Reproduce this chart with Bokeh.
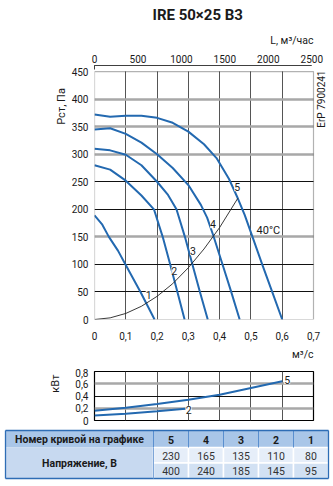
import math
from bokeh.plotting import figure
from bokeh.models import (Range1d, LinearAxis, FixedTicker, Grid, BoxAnnotation,
                          Label, CustomJSTickFormatter, Title)
from bokeh.embed import file_html
from bokeh.resources import INLINE
from bokeh.core.properties import value

FONT = "Roboto"
BLUE = "#2369b0"
TXT = "#1a1a1a"

# ---------------- data ----------------
q1 = [0, 0.025, 0.046, 0.075, 0.099, 0.147, 0.192]
p1 = [189, 172, 150, 125, 100, 50, 0]
q2 = [0, 0.05, 0.1, 0.15, 0.19, 0.218, 0.242, 0.265, 0.288]
p2 = [280, 272, 252, 225, 200, 150, 100, 50, 0]
q3 = [0, 0.05, 0.1, 0.15, 0.2, 0.235, 0.262, 0.289, 0.313, 0.337, 0.362]
p3 = [310, 307, 299, 280, 250, 226, 200, 150, 100, 50, 0]
q4 = [0, 0.05, 0.1, 0.15, 0.2, 0.25, 0.3, 0.34, 0.36, 0.38, 0.408, 0.436, 0.464]
p4 = [345, 347, 337, 321, 300, 275, 244, 208, 185, 152, 102, 52, 0]
q5 = [0, 0.05, 0.1, 0.15, 0.2, 0.25, 0.3, 0.35, 0.39, 0.43, 0.458, 0.48, 0.505, 0.536, 0.568, 0.6]
p5 = [372, 368, 370, 370, 366, 357, 341, 318, 293, 255, 220, 190, 150, 100, 50, 0]
sys_q = [0, 0.05, 0.1, 0.15, 0.2, 0.25, 0.3, 0.35, 0.4, 0.458]
sys_p = [0, 3, 11, 24, 42, 65, 94, 128, 167, 220]

pw5_q = [0, 0.1, 0.2, 0.3, 0.4, 0.5, 0.6]
pw5 = [0.16, 0.21, 0.27, 0.34, 0.42, 0.53, 0.64]
pw2_q = [0, 0.1, 0.2, 0.29]
pw2 = [0.08, 0.11, 0.15, 0.19]

x_ticks = [0, 0.1, 0.2, 0.3, 0.4, 0.5, 0.6, 0.7]
y_ticks = [0, 50, 100, 150, 200, 250, 300, 350, 400, 450]
top_ticks = [0, 500, 1000, 1500, 2000, 2500]
pw_ticks = [0, 0.2, 0.4, 0.6, 0.8]

curve_names = ["1", "2", "3", "4", "5"]
table_curves = ["5", "4", "3", "2", "1"]
volt_row1 = ["230", "165", "135", "110", "80"]
volt_row2 = ["400", "240", "185", "145", "95"]

Q_MAX, P_MAX = 0.7, 450
M3H_PER_M3S = 3600
PX_PER_Q = 219 / Q_MAX          # frame scale of the main chart
Q_EXT = (333 - 94) / PX_PER_Q   # frame runs to the right canvas edge


def comma_fmt():
    return CustomJSTickFormatter(code="""
        if (tick == 0) return '0';
        return tick.toFixed(1).replace('.', ',');
    """)


def side_title(text, size, align, offset, standoff, valign="bottom", bold=False):
    return Title(text=text, align=align, offset=offset, standoff=standoff,
                 vertical_align=valign, text_font=FONT, text_font_size=size,
                 text_font_style="bold" if bold else "normal", text_color=TXT)


def name_axis(text, at, standoff, size="11px"):
    """A second left axis whose single (vertical) tick label is the axis name."""
    return LinearAxis(ticker=FixedTicker(ticks=[at]),
                      formatter=CustomJSTickFormatter(code="return name;", args={"name": text}),
                      axis_line_color=None, major_tick_line_color=None,
                      minor_tick_line_color=None, major_tick_out=0, major_tick_in=0,
                      minor_tick_out=0, minor_tick_in=0, major_label_orientation=math.pi / 2,
                      major_label_standoff=standoff, major_label_text_font=FONT,
                      major_label_text_font_size=size, major_label_text_color=TXT)


def style_value_axis(ax, standoff):
    ax.axis_line_color = None
    ax.major_tick_line_color = None
    ax.minor_tick_line_color = None
    ax.major_tick_out = 0
    ax.minor_tick_out = 0
    ax.major_label_text_font = FONT
    ax.major_label_text_font_size = "10px"
    ax.major_label_text_color = TXT
    ax.major_label_standoff = standoff

# ---------------- main chart ----------------
p = figure(width=333, height=368, x_range=Range1d(0, Q_EXT), y_range=Range1d(0, 461),
           output_backend="svg", toolbar_location=None,
           min_border_left=94, min_border_right=0, min_border_top=65, min_border_bottom=46,
           outline_line_color=None)
p.title.text = "IRE 50×25 B3"
p.title.align = "left"
p.title.offset = 58
p.title.vertical_align = "top"
p.title.text_font = FONT
p.title.text_font_size = "15px"
p.title.text_font_style = "bold"
p.title.text_color = TXT
p.title.standoff = 2

p.xaxis.ticker = FixedTicker(ticks=x_ticks)
p.xaxis.formatter = comma_fmt()
p.yaxis.ticker = FixedTicker(ticks=y_ticks)
style_value_axis(p.xaxis[0], 6)
p.xaxis.major_tick_out = 6
style_value_axis(p.yaxis[0], 6)

p.extra_x_ranges = {"m3h": Range1d(0, Q_EXT * M3H_PER_M3S)}
top = LinearAxis(x_range_name="m3h", ticker=FixedTicker(ticks=top_ticks),
                 bounds=(0, top_ticks[-1]),
                 major_tick_in=4, major_tick_out=0, minor_tick_line_color=None,
                 major_label_standoff=3, major_label_text_font=FONT,
                 major_label_text_font_size="10px", major_label_text_color=TXT,
                 axis_line_color="black", major_tick_line_color="black")
p.add_layout(top, "above")
p.add_layout(side_title("L, м³/час", "10.5px", "right", 20, 10), "above")
p.add_layout(name_axis("Рст, Па", 420, 7), "left")
p.add_layout(side_title("м³/с", "10.5px", "right", 20, 11, valign="top"), "below")

p.xgrid.ticker = FixedTicker(ticks=x_ticks[1:-1])
p.xgrid.grid_line_color = "#555555"
p.xgrid.grid_line_width = 1
p.ygrid.ticker = FixedTicker(ticks=[50, 100, 200, 250])
p.ygrid.grid_line_color = "#111111"
p.ygrid.grid_line_width = 1
p.add_layout(Grid(dimension=1, ticker=FixedTicker(ticks=[150, 300, 350, 400]),
                  grid_line_color="#a8a8a8", grid_line_width=2.5))

for q, pr in [(q1, p1), (q2, p2), (q3, p3), (q4, p4), (q5, p5)]:
    p.line(q, pr, line_color=BLUE, line_width=2)
p.line(sys_q, sys_p, line_color="#222222", line_width=0.9)

# blank the margin strips of the frame (above 450 Pa, right of 0.7 m³/s)
p.add_layout(BoxAnnotation(bottom=P_MAX, fill_color="white", fill_alpha=1, line_color=None))
p.add_layout(BoxAnnotation(left=Q_MAX, fill_color="white", fill_alpha=1, line_color=None))
p.add_layout(BoxAnnotation(left=0, right=Q_MAX, bottom=0, top=P_MAX, fill_color=None,
                           line_color="black", line_width=1.2))

label_pos = [(0.173, 45), (0.255, 88), (0.315, 124), (0.379, 173), (0.456, 240)]
for name, (lx, ly) in zip(curve_names, label_pos):
    p.add_layout(Label(x=lx, y=ly, text=name, text_align="center", text_baseline="middle",
                       text_font=FONT, text_font_size="10.5px", text_color=TXT,
                       background_fill_color="white", background_fill_alpha=0.9))
p.add_layout(Label(x=0.518, y=162, text="40°C", text_align="left", text_baseline="middle",
                   text_font=FONT, text_font_size="11px", text_color=TXT))
p.add_layout(Label(x=0.725, y=400, text="ErP 7900241", angle=math.pi / 2,
                   text_align="center", text_baseline="middle", text_font=FONT,
                   text_font_size="10px", text_color=TXT))

# ---------------- power chart ----------------
pp = figure(width=333, height=58, x_range=Range1d(0, Q_MAX), y_range=Range1d(0, 0.8),
            output_backend="svg", toolbar_location=None,
            min_border_left=94, min_border_right=20, min_border_top=3, min_border_bottom=6,
            outline_line_color="black", outline_line_width=1.2)
pp.title.visible = False
pp.xaxis.visible = False
pp.yaxis.ticker = FixedTicker(ticks=pw_ticks)
pp.yaxis.formatter = comma_fmt()
style_value_axis(pp.yaxis[0], 6)
pp.add_layout(name_axis("кВт", 0.75, 17), "left")
pp.xgrid.ticker = FixedTicker(ticks=x_ticks[1:-1])
pp.xgrid.grid_line_color = "#555555"
pp.ygrid.ticker = FixedTicker(ticks=[0.4])
pp.ygrid.grid_line_color = "#111111"
pp.add_layout(Grid(dimension=1, ticker=FixedTicker(ticks=[0.2, 0.6]),
                   grid_line_color="#a8a8a8", grid_line_width=2.5))
pp.line(pw5_q, pw5, line_color=BLUE, line_width=2)
pp.line(pw2_q, pw2, line_color=BLUE, line_width=2)
pp.add_layout(Label(x=0.616, y=0.66, text="5", text_align="center", text_baseline="middle",
                    text_font=FONT, text_font_size="10.5px", text_color=TXT,
                    background_fill_color="white"))
pp.add_layout(Label(x=0.301, y=0.175, text="2", text_align="center", text_baseline="middle",
                    text_font=FONT, text_font_size="10.5px", text_color=TXT,
                    background_fill_color="white"))

# ---------------- table ----------------
t = figure(width=333, height=60, x_range=Range1d(0, 333), y_range=Range1d(60, 0),
           output_backend="svg", toolbar_location=None, min_border=0,
           outline_line_color=None)
t.title.visible = False
t.axis.visible = False
t.grid.visible = False

L0, L1, R = 5, 153, 328
T0, T1, T2, T3 = 4, 21, 36.5, 52
cw = (R - L1) / len(table_curves)
lefts = [L1 + i * cw for i in range(len(table_curves))]
rights = [l + cw for l in lefts]
centers = [l + cw / 2 for l in lefts]

t.quad(left=[L0], right=[R], top=[T0], bottom=[T1], fill_color="#a9c6e8", line_color=None)
t.quad(left=[L0], right=[L1], top=[T1], bottom=[T3], fill_color="#c7d9f0", line_color=None)
t.quad(left=lefts, right=rights, top=[T1] * 5, bottom=[T2] * 5, fill_color="#e6eef9",
       line_color="white", line_width=1.5)
t.quad(left=lefts, right=rights, top=[T2] * 5, bottom=[T3] * 5, fill_color="#d2e1f3",
       line_color="white", line_width=1.5)
t.segment(x0=lefts, y0=[T0] * 5, x1=lefts, y1=[T1] * 5, line_color="#5a8fcf", line_width=1)
t.segment(x0=[L0, L0, L0, R], y0=[T0, T3, T0, T0], x1=[R, R, L0, R], y1=[T0, T3, T3, T3],
          line_color="#2e6db5", line_width=1.3)
t.segment(x0=[L1], y0=[T1], x1=[L1], y1=[T3], line_color="#7ea6d8", line_width=1)

t.text(x=[(L0 + L1) / 2], y=[(T0 + T1) / 2 + 0.5], text=["Номер кривой на графике"],
       text_align="center", text_baseline="middle", text_font=value(FONT),
       text_font_size="10.5px", text_font_style="bold", text_color=TXT)
t.text(x=centers, y=[(T0 + T1) / 2 + 0.5] * 5, text=table_curves,
       text_align="center", text_baseline="middle", text_font=value(FONT),
       text_font_size="10.5px", text_font_style="bold", text_color=TXT)
t.text(x=[(L0 + L1) / 2], y=[(T1 + T3) / 2], text=["Напряжение, В"],
       text_align="center", text_baseline="middle", text_font=value(FONT),
       text_font_size="10.5px", text_font_style="bold", text_color=TXT)
t.text(x=centers, y=[(T1 + T2) / 2 + 0.5] * 5, text=volt_row1,
       text_align="center", text_baseline="middle", text_font=value(FONT),
       text_font_size="10.5px", text_color="#333333")
t.text(x=centers, y=[(T2 + T3) / 2 + 0.5] * 5, text=volt_row2,
       text_align="center", text_baseline="middle", text_font=value(FONT),
       text_font_size="10.5px", text_color="#333333")

open("out.html", "w").write(file_html([p, pp, t], INLINE))
